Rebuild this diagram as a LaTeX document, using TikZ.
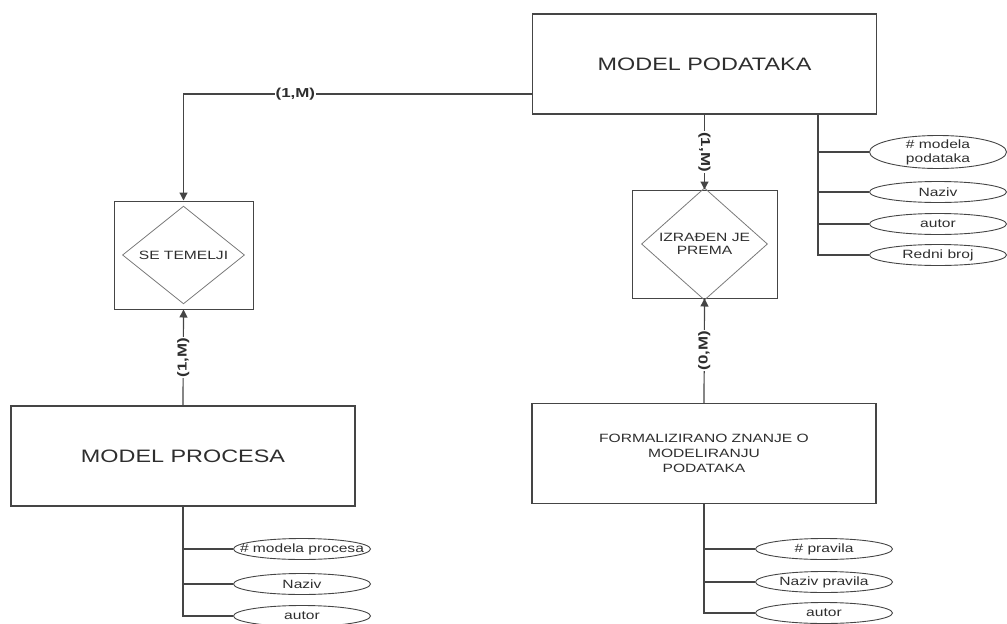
\documentclass[tikz,border=0pt]{standalone}
\usepackage{fontspec}
\setmainfont[FakeStretch=1.3]{Liberation Sans}
\usetikzlibrary{shapes.geometric,arrows.meta}
\definecolor{linegray}{HTML}{454545}
\definecolor{txtgray}{HTML}{2E2E2E}
\definecolor{diagray}{HTML}{7A7A7A}
\tikzset{
  entity/.style={draw=linegray, line width=1.2pt, minimum width=344pt, minimum height=100pt,
    inner sep=0pt, text=txtgray, font=\fontsize{18}{20}\selectfont},
  relbox/.style={draw=linegray, line width=1pt, minimum width=140pt, minimum height=108pt},
  reldia/.style={diamond, draw=diagray, line width=0.8pt, minimum width=124pt, minimum height=94pt,
    inner sep=0pt, text=txtgray, align=center, font=\fontsize{12}{13}\selectfont},
  attrtwo/.style={ellipse, draw=linegray, line width=0.9pt, minimum width=137pt, minimum height=33pt,
    inner xsep=0pt, inner ysep=-3pt, text=txtgray, align=center, font=\fontsize{12}{14}\selectfont},
  attr/.style={ellipse, draw=linegray, line width=0.9pt, minimum width=137pt, minimum height=21pt,
    inner sep=0pt, text=txtgray, font=\fontsize{12}{13}\selectfont,
    execute at begin node={\hbox to 0pt\bgroup\hss}, execute at end node={\hss\egroup}},
  card/.style={fill=white, inner sep=1pt, text=txtgray, font=\bfseries\fontsize{13}{14}\selectfont},
  link/.style={draw=linegray, line width=1.2pt},
  tip/.style={-{Triangle[width=8pt,length=8pt]}},
}
\begin{document}
\begin{tikzpicture}[x=1pt,y=-1pt]
\useasboundingbox (0,0) rectangle (1007,624);
% entiteti
\node[entity] (pod) at (704.5,64) {MODEL PODATAKA};
\node[entity] (proc) at (183,456) {MODEL PROCESA};
\node[entity, align=center, font=\fontsize{12}{15}\selectfont] (form) at (704,453.5)
  {FORMALIZIRANO ZNANJE O\\MODELIRANJU\\PODATAKA};
% veze
\node[relbox, minimum width=139pt] (tem) at (183.5,255) {};
\node[reldia, minimum width=122pt] (temD) at (tem) {SE TEMELJI};
\node[relbox, minimum width=145pt] (izr) at (704.5,244) {};
\node[reldia, minimum width=126pt, minimum height=93pt] (izrD) at (izr) {IZRAĐEN JE\\PREMA};
\coordinate (podL) at (533,94);
\draw[link,tip] (podL) -| node[card,pos=0.34]{(1,M)} (tem.north);
\draw[link,tip] (proc.north) -- node[card,rotate=90]{(1,M)} (tem.south);
\draw[link,tip] (pod.south) -- node[card,rotate=-90]{(1,M)} (izr.north);
\draw[link,tip] (form.north) -- node[card,rotate=90]{(0,M)} (izr.south);
% atributi
\node[attrtwo] (pa1) at (938,152) {\# modela\\podataka};
\node[attr] (pa2) at (938,192) {Naziv};
\node[attr] (pa3) at (938,224) {autor};
\node[attr] (pa4) at (938,255) {Redni broj};
\coordinate (podA) at (818,114);
\foreach \a in {pa1,pa2,pa3,pa4}
  \draw[link] (podA) |- (\a.west);
\node[attr] (ma1) at (302,549) {\# modela procesa};
\node[attr] (ma2) at (302,584) {Naziv};
\node[attr] (ma3) at (302,616) {autor};
\foreach \a in {ma1,ma2,ma3}
  \draw[link] (proc.south) |- (\a.west);
\node[attr] (fa1) at (824,549) {\# pravila};
\node[attr] (fa2) at (824,582) {Naziv pravila};
\node[attr] (fa3) at (824,613) {autor};
\foreach \a in {fa1,fa2,fa3}
  \draw[link] (form.south) |- (\a.west);
\end{tikzpicture}
\end{document}
